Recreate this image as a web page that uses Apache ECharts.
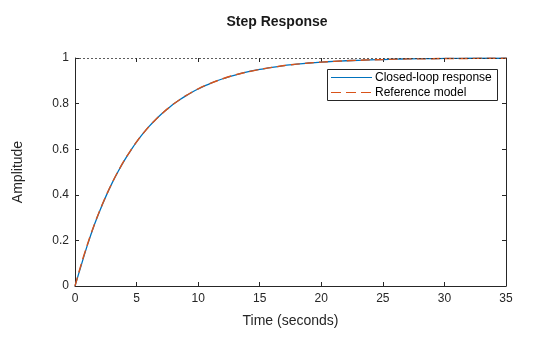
<!DOCTYPE html>
<html><head><meta charset="utf-8">
<script src="https://cdn.jsdelivr.net/npm/echarts@6/dist/echarts.min.js"></script>
<style>html,body{margin:0;padding:0;background:#fff}#c{width:560px;height:337px}</style>
</head><body><div id="c"></div>
<script>
var timeValues = [0,0.5,1,1.5,2,2.5,3,3.5,4,4.5,5,5.5,6,6.5,7,7.5,8,8.5,9,9.5,10,11,12,13,14,15,16,17,18,19,20,21,22,23,24,25,26,27,28,29,30,31,32,33,34,35];
var closedLoop = [0,0.09,0.178,0.258,0.328,0.392,0.45,0.502,0.55,0.592,0.632,0.667,0.699,0.727,0.753,0.776,0.798,0.817,0.834,0.85,0.864,0.889,0.909,0.925,0.939,0.95,0.959,0.967,0.973,0.978,0.982,0.985,0.988,0.99,0.992,0.993,0.995,0.996,0.997,0.997,0.998,0.998,0.999,0.999,0.999,1.0];
var referenceModel = [0,0.095,0.181,0.259,0.33,0.393,0.451,0.503,0.551,0.593,0.632,0.667,0.699,0.727,0.753,0.777,0.798,0.817,0.835,0.85,0.865,0.889,0.909,0.926,0.939,0.95,0.959,0.967,0.973,0.978,0.982,0.985,0.988,0.99,0.992,0.993,0.995,0.996,0.996,0.997,0.998,0.998,0.998,0.999,0.999,0.999];
var xTicks = [0,5,10,15,20,25,30,35];
var yTicks = [0,0.2,0.4,0.6,0.8,1];
var seriesNames = ['Closed-loop response','Reference model'];
var steadyState = 1;

function pairs(xs, ys){ return xs.map(function(x,i){return [x, ys[i]];}); }
var font = 'Arial, "Liberation Sans", Helvetica, sans-serif';
var chart = echarts.init(document.getElementById('c'), null, {renderer:'canvas'});
chart.setOption({
  animation:false,
  title:{text:'Step Response', left:272, top:10, textAlign:'center',
    textStyle:{fontFamily:font, fontSize:14, fontWeight:'bold', color:'#1a1a1a'}},
  grid:{left:75, right:54, top:58, bottom:51, containLabel:false},
  legend:{show:false},
  xAxis:[{
    type:'value', min:0, max:35, interval:5,
    name:'Time (seconds)', nameLocation:'middle', nameGap:28,
    nameTextStyle:{fontFamily:font, fontSize:14, color:'#262626'},
    axisLine:{onZero:false, lineStyle:{color:'#262626', width:1}},
    axisTick:{inside:true, length:4, lineStyle:{color:'#262626'}},
    axisLabel:{fontFamily:font, fontSize:12, color:'#262626', margin:7},
    splitLine:{show:false}
  },{
    type:'value', position:'top', min:0, max:35, interval:5,
    axisLine:{onZero:false, show:false},
    axisTick:{inside:true, length:4, lineStyle:{color:'#262626'}},
    axisLabel:{show:false}, splitLine:{show:false}
  }],
  yAxis:[{
    type:'value', min:0, max:1, interval:0.2,
    name:'Amplitude', nameLocation:'middle', nameGap:50, nameRotate:90,
    nameTextStyle:{fontFamily:font, fontSize:14, color:'#262626'},
    axisLine:{show:true, onZero:false, lineStyle:{color:'#262626', width:1}},
    axisTick:{show:true, inside:true, length:4, lineStyle:{color:'#262626'}},
    axisLabel:{fontFamily:font, fontSize:12, color:'#262626', margin:6,
      formatter:function(v){return String(Math.round(v*10)/10);}},
    splitLine:{show:false}
  },{
    type:'value', position:'right', min:0, max:1, interval:0.2,
    axisLine:{show:true, onZero:false, lineStyle:{color:'#262626', width:1}},
    axisTick:{show:true, inside:true, length:4, lineStyle:{color:'#262626'}},
    axisLabel:{show:false}, splitLine:{show:false}
  }],
  series:[{
    name:seriesNames[0], type:'line', data:pairs(timeValues, closedLoop),
    showSymbol:false, smooth:0.3, lineStyle:{color:'#0072BD', width:1.3},
    itemStyle:{color:'#0072BD'}, z:2,
    markLine:{silent:true, symbol:'none', label:{show:false},
      lineStyle:{color:'#333', type:[2,2], width:0.8},
      data:[{yAxis:steadyState}]}
  },{
    name:seriesNames[1], type:'line', data:pairs(timeValues, referenceModel),
    showSymbol:false, smooth:0.3, lineStyle:{color:'#D95319', width:1.4, type:[9,5]},
    itemStyle:{color:'#D95319'}, z:3
  }],
  graphic:[
    {type:'rect', shape:{x:327.5, y:69.5, width:170, height:31},
     style:{fill:'#fff', stroke:'#262626', lineWidth:1}, z:100},
    {type:'line', shape:{x1:331, y1:77.5, x2:372, y2:77.5},
     style:{stroke:'#0072BD', lineWidth:1.2}, z:101},
    {type:'text', x:375, y:77.5, style:{text:seriesNames[0], fontFamily:font, fontSize:12, fill:'#000', verticalAlign:'middle'}, z:101},
    {type:'line', shape:{x1:331, y1:92.5, x2:372, y2:92.5},
     style:{stroke:'#D95319', lineWidth:1.2, lineDash:[10,5]}, z:101},
    {type:'text', x:375, y:92.5, style:{text:seriesNames[1], fontFamily:font, fontSize:12, fill:'#000', verticalAlign:'middle'}, z:101}
  ]
});
</script></body></html>
